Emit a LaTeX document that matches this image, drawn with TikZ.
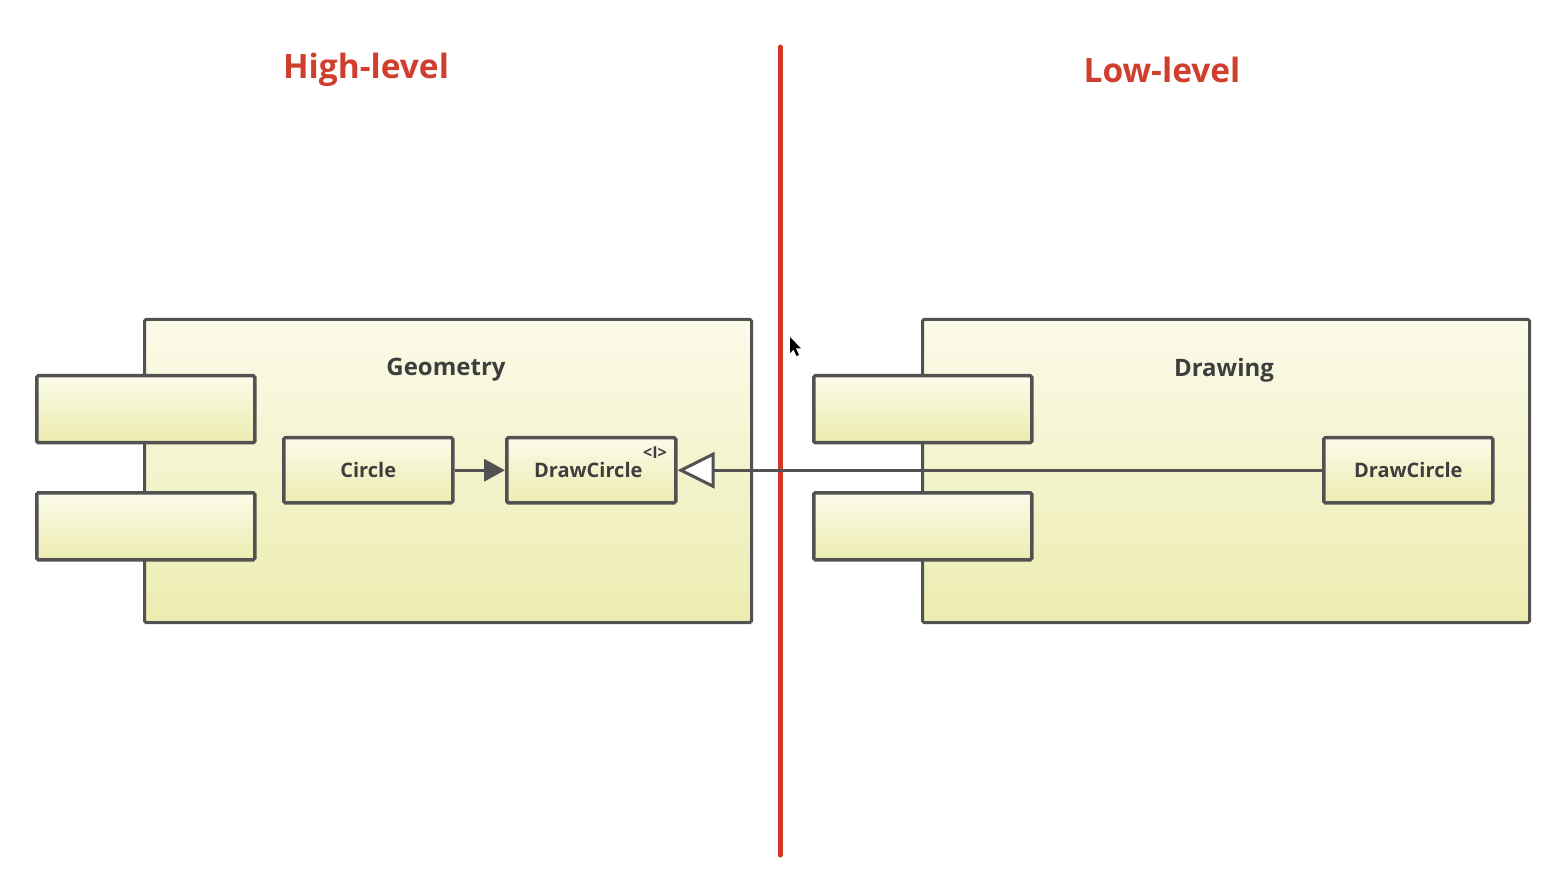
\documentclass[tikz,border=0pt]{standalone}
\usepackage{fontspec}
\setmainfont{Open Sans}
\usetikzlibrary{arrows.meta}
\definecolor{boxline}{RGB}{82,82,82}
\definecolor{topy}{RGB}{251,251,234}
\definecolor{boty}{RGB}{236,236,176}
\definecolor{redline}{RGB}{212,55,35}
\definecolor{titlered}{RGB}{208,62,45}
\definecolor{txt}{RGB}{62,62,62}
\begin{document}
\begin{tikzpicture}[x=1pt,y=-1pt,
  comp/.style={draw=boxline, line width=3.5pt, rounded corners=1.5pt, top color=topy, bottom color=boty, inner sep=0pt, anchor=north west},
  cls/.style={comp, minimum width=169pt, minimum height=65pt, font=\fontsize{20}{24}\selectfont\bfseries, text=txt},
  tab/.style={comp, minimum width=218pt, minimum height=67pt},
  big/.style={comp, line width=3pt, minimum width=607pt, minimum height=303pt},
  title/.style={font=\fontsize{33.5}{38}\selectfont\bfseries, text=titlered},
  pkgname/.style={font=\fontsize{24}{28}\selectfont\bfseries, text=txt},
  conn/.style={draw=boxline, line width=3pt}
]
\useasboundingbox (0,0) rectangle (1548,890);
% titles
\node[title] (hl) at (366,70) {High-level};
\node[title] (ll) at (1162,70) {Low-level};
% divider
\coordinate (rtop) at (780,47);
\coordinate (rbot) at (780,855);
\draw[redline, line width=5pt, line cap=round] (rtop) -- (rbot);
% Geometry package
\node[big] (geom) at (143,318) {};
\node[tab] (gt1) at (35,374) {};
\node[tab] (gt2) at (35,491) {};
\node[pkgname] (geomlbl) at (446,370) {Geometry};
\node[cls] (circle) at (282,436) {Circle};
\node[cls] (dc1) at (505,436) {\hspace*{-6pt}DrawCircle};
\node[font=\fontsize{16.5}{18}\selectfont\bfseries, text=txt, anchor=center, inner sep=0pt] (iface) at (655,453) {<I>};
% Drawing package
\node[big] (draw) at (921,318) {};
\node[tab] (dt1) at (812,374) {};
\node[tab] (dt2) at (812,491) {};
\node[pkgname] (drawlbl) at (1224,370) {Drawing};
\node[cls] (dc2) at (1322,436) {DrawCircle};
% connectors
\draw[conn, line width=3.5pt, -{Triangle[length=21pt,width=22pt,fill=boxline]}] (circle.east) -- (dc1.west);
\draw[conn, {Triangle[open,length=37pt,width=36pt,fill=white]}-] (dc1.east) -- (dc2.west);
% mouse cursor
\fill[black] (790,337) -- (790,353) -- (793.5,349.5) -- (796.5,356) -- (799,355) -- (796,348.5) -- (801,348.5) -- cycle;
\end{tikzpicture}
\end{document}
